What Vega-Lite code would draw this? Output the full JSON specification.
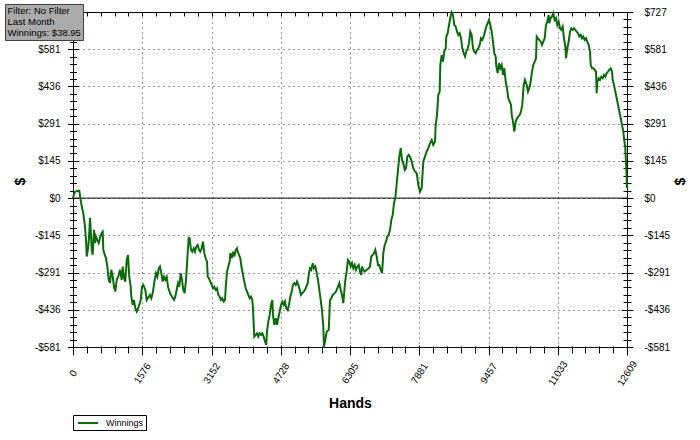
{
  "$schema": "https://vega.github.io/schema/vega-lite/v6.json",
  "autosize": "none",
  "width": 554,
  "height": 335,
  "padding": {"left": 73, "top": 12, "right": 73, "bottom": 93},
  "background": "white",
  "config": {
    "font": "Liberation Sans",
    "view": {"stroke": "black", "strokeWidth": 1},
    "axis": {"domain": false, "tickColor": "black", "labelColor": "black", "titleColor": "black", "grid": false}
  },
  "data": {"values": [
{"h":0,"v":0},{"h":23,"v":16},{"h":46,"v":24},{"h":91,"v":28},{"h":143,"v":29},{"h":175,"v":-7},{"h":205,"v":-38},{"h":234,"v":-58},{"h":273,"v":-111},{"h":296,"v":-163},{"h":312,"v":-228},{"h":348,"v":-189},{"h":371,"v":-136},{"h":387,"v":-77},{"h":403,"v":-124},{"h":426,"v":-202},{"h":448,"v":-221},{"h":478,"v":-124},{"h":501,"v":-175},{"h":523,"v":-150},{"h":553,"v":-163},{"h":585,"v":-175},{"h":615,"v":-155},{"h":653,"v":-136},{"h":676,"v":-131},{"h":690,"v":-202},{"h":722,"v":-221},{"h":751,"v":-234},{"h":781,"v":-267},{"h":813,"v":-319},{"h":842,"v":-331},{"h":872,"v":-280},{"h":904,"v":-307},{"h":933,"v":-346},{"h":963,"v":-365},{"h":995,"v":-319},{"h":1031,"v":-307},{"h":1070,"v":-280},{"h":1108,"v":-319},{"h":1131,"v":-267},{"h":1161,"v":-312},{"h":1190,"v":-326},{"h":1222,"v":-241},{"h":1252,"v":-222},{"h":1281,"v":-307},{"h":1313,"v":-346},{"h":1327,"v":-385},{"h":1359,"v":-417},{"h":1388,"v":-398},{"h":1418,"v":-430},{"h":1450,"v":-443},{"h":1495,"v":-424},{"h":1541,"v":-398},{"h":1570,"v":-346},{"h":1600,"v":-339},{"h":1646,"v":-358},{"h":1677,"v":-398},{"h":1723,"v":-385},{"h":1753,"v":-378},{"h":1782,"v":-391},{"h":1814,"v":-371},{"h":1859,"v":-319},{"h":1889,"v":-293},{"h":1919,"v":-307},{"h":1951,"v":-274},{"h":1980,"v":-267},{"h":2010,"v":-293},{"h":2042,"v":-326},{"h":2071,"v":-307},{"h":2101,"v":-319},{"h":2133,"v":-307},{"h":2162,"v":-346},{"h":2208,"v":-371},{"h":2253,"v":-385},{"h":2299,"v":-398},{"h":2328,"v":-385},{"h":2360,"v":-358},{"h":2390,"v":-332},{"h":2419,"v":-346},{"h":2451,"v":-293},{"h":2481,"v":-319},{"h":2510,"v":-358},{"h":2542,"v":-371},{"h":2572,"v":-319},{"h":2601,"v":-241},{"h":2633,"v":-155},
{"h":2656,"v":-157},{"h":2686,"v":-202},{"h":2715,"v":-209},{"h":2747,"v":-196},{"h":2777,"v":-209},{"h":2806,"v":-189},{"h":2838,"v":-183},{"h":2868,"v":-202},{"h":2897,"v":-209},{"h":2929,"v":-196},{"h":2959,"v":-170},{"h":2988,"v":-215},{"h":3020,"v":-235},{"h":3050,"v":-248},{"h":3066,"v":-307},{"h":3095,"v":-313},{"h":3125,"v":-326},{"h":3157,"v":-339},{"h":3186,"v":-352},{"h":3216,"v":-346},{"h":3248,"v":-358},{"h":3277,"v":-352},{"h":3307,"v":-378},{"h":3339,"v":-385},{"h":3368,"v":-398},{"h":3398,"v":-391},{"h":3430,"v":-404},{"h":3460,"v":-398},{"h":3475,"v":-352},{"h":3505,"v":-287},{"h":3535,"v":-267},{"h":3566,"v":-248},{"h":3580,"v":-215},{"h":3612,"v":-235},{"h":3642,"v":-209},{"h":3671,"v":-228},{"h":3703,"v":-202},{"h":3733,"v":-196},{"h":3749,"v":-209},{"h":3778,"v":-222},{"h":3808,"v":-235},{"h":3840,"v":-274},{"h":3869,"v":-300},{"h":3899,"v":-326},{"h":3931,"v":-352},{"h":3960,"v":-365},{"h":3990,"v":-378},{"h":4022,"v":-391},{"h":4051,"v":-385},{"h":4081,"v":-398},{"h":4097,"v":-430},{"h":4113,"v":-495},{"h":4126,"v":-541},{"h":4158,"v":-534},{"h":4188,"v":-528},{"h":4217,"v":-541},{"h":4249,"v":-528},{"h":4279,"v":-534},{"h":4308,"v":-528},{"h":4340,"v":-541},{"h":4370,"v":-560},{"h":4399,"v":-573},{"h":4415,"v":-521},{"h":4445,"v":-482},{"h":4477,"v":-456},{"h":4506,"v":-417},{"h":4536,"v":-398},{"h":4552,"v":-456},{"h":4581,"v":-495},{"h":4613,"v":-469},{"h":4643,"v":-495},{"h":4672,"v":-469},{"h":4704,"v":-443},{"h":4734,"v":-417},{"h":4763,"v":-404},{"h":4795,"v":-417},{"h":4825,"v":-404},{"h":4855,"v":-430},{"h":4887,"v":-437},{"h":4916,"v":-417},{"h":4946,"v":-385},{"h":4978,"v":-365},{"h":5007,"v":-339},{"h":5037,"v":-332},{"h":5069,"v":-339},{"h":5098,"v":-326},{"h":5128,"v":-339},{"h":5160,"v":-358},{"h":5189,"v":-378},{"h":5219,"v":-371},{"h":5251,"v":-365},{"h":5280,"v":-358},{"h":5310,"v":-346},{"h":5342,"v":-332},{"h":5371,"v":-293},{"h":5394,"v":-274},
{"h":5424,"v":-280},{"h":5456,"v":-254},{"h":5485,"v":-274},{"h":5515,"v":-267},{"h":5547,"v":-293},{"h":5576,"v":-319},{"h":5606,"v":-358},{"h":5638,"v":-398},{"h":5667,"v":-437},{"h":5697,"v":-502},{"h":5713,"v":-580},{"h":5742,"v":-554},{"h":5774,"v":-521},{"h":5820,"v":-515},{"h":5849,"v":-398},{"h":5879,"v":-391},{"h":5911,"v":-378},{"h":5956,"v":-371},{"h":5986,"v":-365},{"h":6031,"v":-346},{"h":6061,"v":-332},{"h":6093,"v":-358},{"h":6122,"v":-378},{"h":6152,"v":-410},{"h":6184,"v":-346},{"h":6198,"v":-319},{"h":6229,"v":-287},{"h":6259,"v":-241},{"h":6289,"v":-248},{"h":6320,"v":-267},{"h":6350,"v":-254},{"h":6380,"v":-274},{"h":6411,"v":-261},{"h":6441,"v":-280},{"h":6471,"v":-267},{"h":6503,"v":-261},{"h":6532,"v":-287},{"h":6562,"v":-300},{"h":6578,"v":-267},{"h":6607,"v":-280},{"h":6639,"v":-287},{"h":6685,"v":-280},{"h":6730,"v":-274},{"h":6760,"v":-267},{"h":6789,"v":-228},{"h":6821,"v":-222},{"h":6851,"v":-215},{"h":6880,"v":-202},{"h":6912,"v":-228},{"h":6942,"v":-261},{"h":6971,"v":-261},{"h":7003,"v":-280},{"h":7033,"v":-293},{"h":7049,"v":-254},{"h":7062,"v":-215},{"h":7094,"v":-183},{"h":7124,"v":-170},{"h":7153,"v":-150},{"h":7185,"v":-144},{"h":7215,"v":-124},{"h":7245,"v":-85},{"h":7276,"v":-66},{"h":7306,"v":-20},{"h":7336,"v":0},{"h":7368,"v":58},{"h":7397,"v":110},{"h":7427,"v":162},{"h":7459,"v":195},{"h":7488,"v":149},{"h":7518,"v":136},{"h":7550,"v":110},{"h":7579,"v":117},{"h":7609,"v":162},{"h":7641,"v":169},
{"h":7670,"v":162},{"h":7709,"v":143},{"h":7745,"v":117},{"h":7784,"v":103},{"h":7823,"v":97},{"h":7859,"v":52},{"h":7898,"v":25},{"h":7936,"v":39},{"h":7973,"v":143},{"h":8011,"v":162},{"h":8050,"v":182},{"h":8087,"v":195},{"h":8125,"v":214},{"h":8164,"v":227},{"h":8200,"v":208},{"h":8239,"v":221},{"h":8255,"v":286},{"h":8285,"v":325},{"h":8314,"v":403},{"h":8346,"v":416},{"h":8360,"v":520},{"h":8392,"v":559},{"h":8421,"v":533},{"h":8451,"v":572},{"h":8483,"v":585},{"h":8496,"v":631},{"h":8528,"v":644},{"h":8558,"v":676},{"h":8587,"v":703},{"h":8619,"v":725},{"h":8649,"v":715},{"h":8678,"v":676},{"h":8710,"v":670},{"h":8740,"v":650},{"h":8769,"v":637},{"h":8801,"v":644},{"h":8831,"v":624},{"h":8860,"v":585},{"h":8892,"v":566},{"h":8922,"v":553},{"h":8951,"v":572},{"h":8983,"v":585},{"h":9013,"v":605},{"h":9042,"v":650},{"h":9074,"v":637},{"h":9104,"v":585},{"h":9133,"v":572},{"h":9165,"v":566},{"h":9195,"v":579},{"h":9225,"v":585},{"h":9256,"v":598},{"h":9286,"v":624},{"h":9316,"v":618},{"h":9347,"v":631},{"h":9377,"v":650},{"h":9407,"v":670},{"h":9438,"v":683},{"h":9468,"v":696},{"h":9498,"v":676},{"h":9529,"v":650},{"h":9559,"v":611},{"h":9588,"v":566},{"h":9620,"v":553},{"h":9634,"v":514},{"h":9666,"v":488},{"h":9696,"v":527},{"h":9725,"v":507},{"h":9757,"v":520},{"h":9787,"v":481},{"h":9816,"v":507},{"h":9848,"v":455},{"h":9878,"v":429},{"h":9907,"v":390},{"h":9939,"v":377},{"h":9969,"v":364},{"h":9985,"v":325},{"h":10014,"v":299},{"h":10044,"v":260},{"h":10076,"v":299},{"h":10105,"v":312},{"h":10135,"v":318},{"h":10167,"v":325},{"h":10196,"v":338},{"h":10226,"v":364},{"h":10258,"v":442},{"h":10287,"v":462},
{"h":10326,"v":442},{"h":10356,"v":416},{"h":10385,"v":429},{"h":10417,"v":455},{"h":10447,"v":494},{"h":10476,"v":520},{"h":10508,"v":533},{"h":10538,"v":546},{"h":10554,"v":631},{"h":10583,"v":624},{"h":10613,"v":618},{"h":10645,"v":611},{"h":10674,"v":598},{"h":10704,"v":611},{"h":10736,"v":624},{"h":10765,"v":676},{"h":10795,"v":689},{"h":10827,"v":715},{"h":10840,"v":683},{"h":10872,"v":703},{"h":10902,"v":709},{"h":10931,"v":722},{"h":10963,"v":696},{"h":10993,"v":703},{"h":11023,"v":676},{"h":11054,"v":689},{"h":11084,"v":663},{"h":11113,"v":657},{"h":11145,"v":670},{"h":11175,"v":624},{"h":11205,"v":592},{"h":11221,"v":546},{"h":11250,"v":585},{"h":11282,"v":611},{"h":11312,"v":650},{"h":11341,"v":663},{"h":11373,"v":657},{"h":11403,"v":663},{"h":11432,"v":657},{"h":11464,"v":650},{"h":11494,"v":644},{"h":11523,"v":631},{"h":11555,"v":637},{"h":11585,"v":624},{"h":11614,"v":631},{"h":11646,"v":618},{"h":11676,"v":624},{"h":11705,"v":611},{"h":11737,"v":598},{"h":11767,"v":572},{"h":11783,"v":520},{"h":11812,"v":507},{"h":11842,"v":507},{"h":11874,"v":501},{"h":11903,"v":494},{"h":11919,"v":410},{"h":11933,"v":455},{"h":11965,"v":468},{"h":11995,"v":462},{"h":12024,"v":474},{"h":12056,"v":468},{"h":12086,"v":481},{"h":12115,"v":474},{"h":12147,"v":488},{"h":12176,"v":494},{"h":12206,"v":501},{"h":12238,"v":507},{"h":12268,"v":494},{"h":12283,"v":462},{"h":12313,"v":442},{"h":12343,"v":416},{"h":12375,"v":390},{"h":12404,"v":364},{"h":12434,"v":338},{"h":12466,"v":312},{"h":12495,"v":286},{"h":12525,"v":260},{"h":12541,"v":234},{"h":12570,"v":195},{"h":12586,"v":143},{"h":12602,"v":78},{"h":12609,"v":38.95}
  ]},
  "resolve": {"axis": {"x": "independent", "y": "independent"}},
  "layer": [
    {
      "data": {"values": [{"z": 0}]},
      "mark": {"type": "rule", "color": "black", "strokeWidth": 1},
      "encoding": {
        "y": {"field": "z", "type": "quantitative", "scale": {"domain": [-581.3333, 726.6667], "nice": false, "zero": false},
          "axis": {"orient": "right", "values": [-581.3333, -436, -290.6667, -145.3333, 0, 145.3333, 290.6667, 436, 581.3333, 726.6667],
            "labelExpr": "(datum.value < 0 ? '-$' : '$') + format(abs(datum.value), '.0f')",
            "ticks": false, "labelPadding": 17, "labelFontSize": 10, "labelAlign": "left",
            "title": "$", "titleFontSize": 14, "titleFontWeight": "bold", "titleAngle": -90, "titleX": 53, "titleY": 169, "titleBaseline": "middle", "titleAlign": "center"}}
      }
    },
    {
      "mark": {"type": "line", "strokeWidth": 2},
      "encoding": {
        "x": {"field": "h", "type": "quantitative", "scale": {"domain": [0, 12609], "nice": false, "zero": false},
          "axis": {"orient": "bottom", "values": [0, 1576.125, 3152.25, 4728.375, 6304.5, 7880.625, 9456.75, 11032.875, 12609],
            "labelExpr": "format(datum.value, '.0f')", "labelAngle": -57, "labelAlign": "center", "labelBaseline": "middle",
            "labelPadding": 26, "labelFontSize": 10, "ticks": false, "labelFlush": false, "labelOverlap": false,
            "grid": true, "gridColor": "#333333", "gridDash": [1, 4], "gridWidth": 1,
            "title": "Hands", "titleFont": "Liberation Sans Narrow, Liberation Sans", "titleFontSize": 14, "titleFontWeight": "bold",
            "titleY": 56, "titleBaseline": "middle"}},
        "y": {"field": "v", "type": "quantitative", "scale": {"domain": [-581.3333, 726.6667], "nice": false, "zero": false},
          "axis": {"orient": "left", "values": [-581.3333, -436, -290.6667, -145.3333, 0, 145.3333, 290.6667, 436, 581.3333],
            "labelExpr": "(datum.value < 0 ? '-$' : '$') + format(abs(datum.value), '.0f')",
            "ticks": false, "labelPadding": 13, "labelFontSize": 10,
            "grid": true, "gridColor": "#333333", "gridDash": [1, 4], "gridWidth": 1,
            "title": "$", "titleFontSize": 14, "titleFontWeight": "bold", "titleAngle": -90, "titleX": -53, "titleY": 169, "titleBaseline": "middle", "titleAlign": "center"}},
        "color": {"datum": "Winnings", "type": "nominal",
          "scale": {"domain": ["Winnings"], "range": ["#0b6b0b"]},
          "legend": {"orient": "none", "legendX": 0, "legendY": 403, "title": null, "symbolType": "M-2,0H2", "symbolSize": 100,
            "symbolOffset": 7, "symbolStrokeWidth": 2, "strokeColor": "black", "fillColor": "white", "padding": 2,
            "labelFontSize": 9, "labelOffset": 12, "labelColor": "black"}}
      }
    },
    {
      "mark": {"type": "point", "opacity": 0},
      "encoding": {
        "x": {"field": "h", "type": "quantitative", "scale": {"domain": [0, 12609], "nice": false, "zero": false},
          "axis": {"orient": "bottom", "values": [0, 1576.125, 3152.25, 4728.375, 6304.5, 7880.625, 9456.75, 11032.875, 12609],
            "labels": false, "tickSize": 10, "offset": -2, "title": null, "grid": false}},
        "y": {"field": "v", "type": "quantitative", "scale": {"domain": [-581.3333, 726.6667], "nice": false, "zero": false},
          "axis": {"orient": "left", "values": [-581.3333, -436, -290.6667, -145.3333, 0, 145.3333, 290.6667, 436, 581.3333, 726.6667],
            "labels": false, "tickSize": 11, "offset": -5.5, "title": null, "grid": false}}
      }
    },
    {
      "mark": {"type": "point", "opacity": 0},
      "encoding": {
        "x": {"field": "h", "type": "quantitative", "scale": {"domain": [0, 12609], "nice": false, "zero": false},
          "axis": {"orient": "bottom", "values": [0, 315.225, 630.45, 945.675, 1260.9, 1576.125, 1891.35, 2206.575, 2521.8, 2837.025, 3152.25, 3467.475, 3782.7, 4097.925, 4413.15, 4728.375, 5043.6, 5358.825, 5674.05, 5989.275, 6304.5, 6619.725, 6934.95, 7250.175, 7565.4, 7880.625, 8195.85, 8511.075, 8826.3, 9141.525, 9456.75, 9771.975, 10087.2, 10402.425, 10717.65, 11032.875, 11348.1, 11663.325, 11978.55, 12293.775, 12609],
            "labels": false, "tickSize": 7, "offset": -1, "title": null, "grid": false}},
        "y": {"field": "v", "type": "quantitative", "scale": {"domain": [-581.3333, 726.6667], "nice": false, "zero": false},
          "axis": {"orient": "left", "values": [-581.333, -552.267, -523.2, -494.133, -465.067, -436, -406.933, -377.867, -348.8, -319.733, -290.667, -261.6, -232.533, -203.467, -174.4, -145.333, -116.267, -87.2, -58.133, -29.067, 0, 29.067, 58.133, 87.2, 116.267, 145.333, 174.4, 203.467, 232.533, 261.6, 290.667, 319.733, 348.8, 377.867, 406.933, 436, 465.067, 494.133, 523.2, 552.267, 581.333, 610.4, 639.467, 668.533, 697.6, 726.667],
            "labels": false, "tickSize": 7, "offset": -3.5, "title": null, "grid": false}}
      }
    },
    {
      "mark": {"type": "point", "opacity": 0},
      "encoding": {
        "x": {"field": "h", "type": "quantitative", "scale": {"domain": [0, 12609], "nice": false, "zero": false},
          "axis": {"orient": "top", "values": [0, 315.225, 630.45, 945.675, 1260.9, 1576.125, 1891.35, 2206.575, 2521.8, 2837.025, 3152.25, 3467.475, 3782.7, 4097.925, 4413.15, 4728.375, 5043.6, 5358.825, 5674.05, 5989.275, 6304.5, 6619.725, 6934.95, 7250.175, 7565.4, 7880.625, 8195.85, 8511.075, 8826.3, 9141.525, 9456.75, 9771.975, 10087.2, 10402.425, 10717.65, 11032.875, 11348.1, 11663.325, 11978.55, 12293.775, 12609],
            "labels": false, "tickSize": 4, "offset": -4, "title": null, "grid": false}},
        "y": {"field": "v", "type": "quantitative", "scale": {"domain": [-581.3333, 726.6667], "nice": false, "zero": false},
          "axis": {"orient": "right", "values": [-581.3333, -436, -290.6667, -145.3333, 0, 145.3333, 290.6667, 436, 581.3333, 726.6667],
            "labels": false, "tickSize": 12, "offset": -6, "title": null, "grid": false}}
      }
    },
    {
      "mark": {"type": "point", "opacity": 0},
      "encoding": {
        "y": {"field": "v", "type": "quantitative", "scale": {"domain": [-581.3333, 726.6667], "nice": false, "zero": false},
          "axis": {"orient": "right", "values": [-581.333, -552.267, -523.2, -494.133, -465.067, -436, -406.933, -377.867, -348.8, -319.733, -290.667, -261.6, -232.533, -203.467, -174.4, -145.333, -116.267, -87.2, -58.133, -29.067, 0, 29.067, 58.133, 87.2, 116.267, 145.333, 174.4, 203.467, 232.533, 261.6, 290.667, 319.733, 348.8, 377.867, 406.933, 436, 465.067, 494.133, 523.2, 552.267, 581.333, 610.4, 639.467, 668.533, 697.6, 726.667],
            "labels": false, "tickSize": 8, "offset": -4, "title": null, "grid": false}}
      }
    },
    {
      "data": {"values": [{"info": "Filter: No Filter"}, {"info": "Last Month"}, {"info": "Winnings: $38.95"}]},
      "mark": {"type": "point", "opacity": 0, "size": 0.01},
      "encoding": {
        "shape": {"field": "info", "type": "nominal",
          "legend": {"orient": "none", "legendX": -68, "legendY": -8, "title": null, "symbolSize": 0.01, "symbolStrokeWidth": 0,
            "symbolOpacity": 0, "labelOffset": -9, "labelFontSize": 9.5, "labelColor": "black", "padding": 2, "rowPadding": 0,
            "fillColor": "#aaaaaa", "strokeColor": "#404040"}}
      }
    }
  ]
}
